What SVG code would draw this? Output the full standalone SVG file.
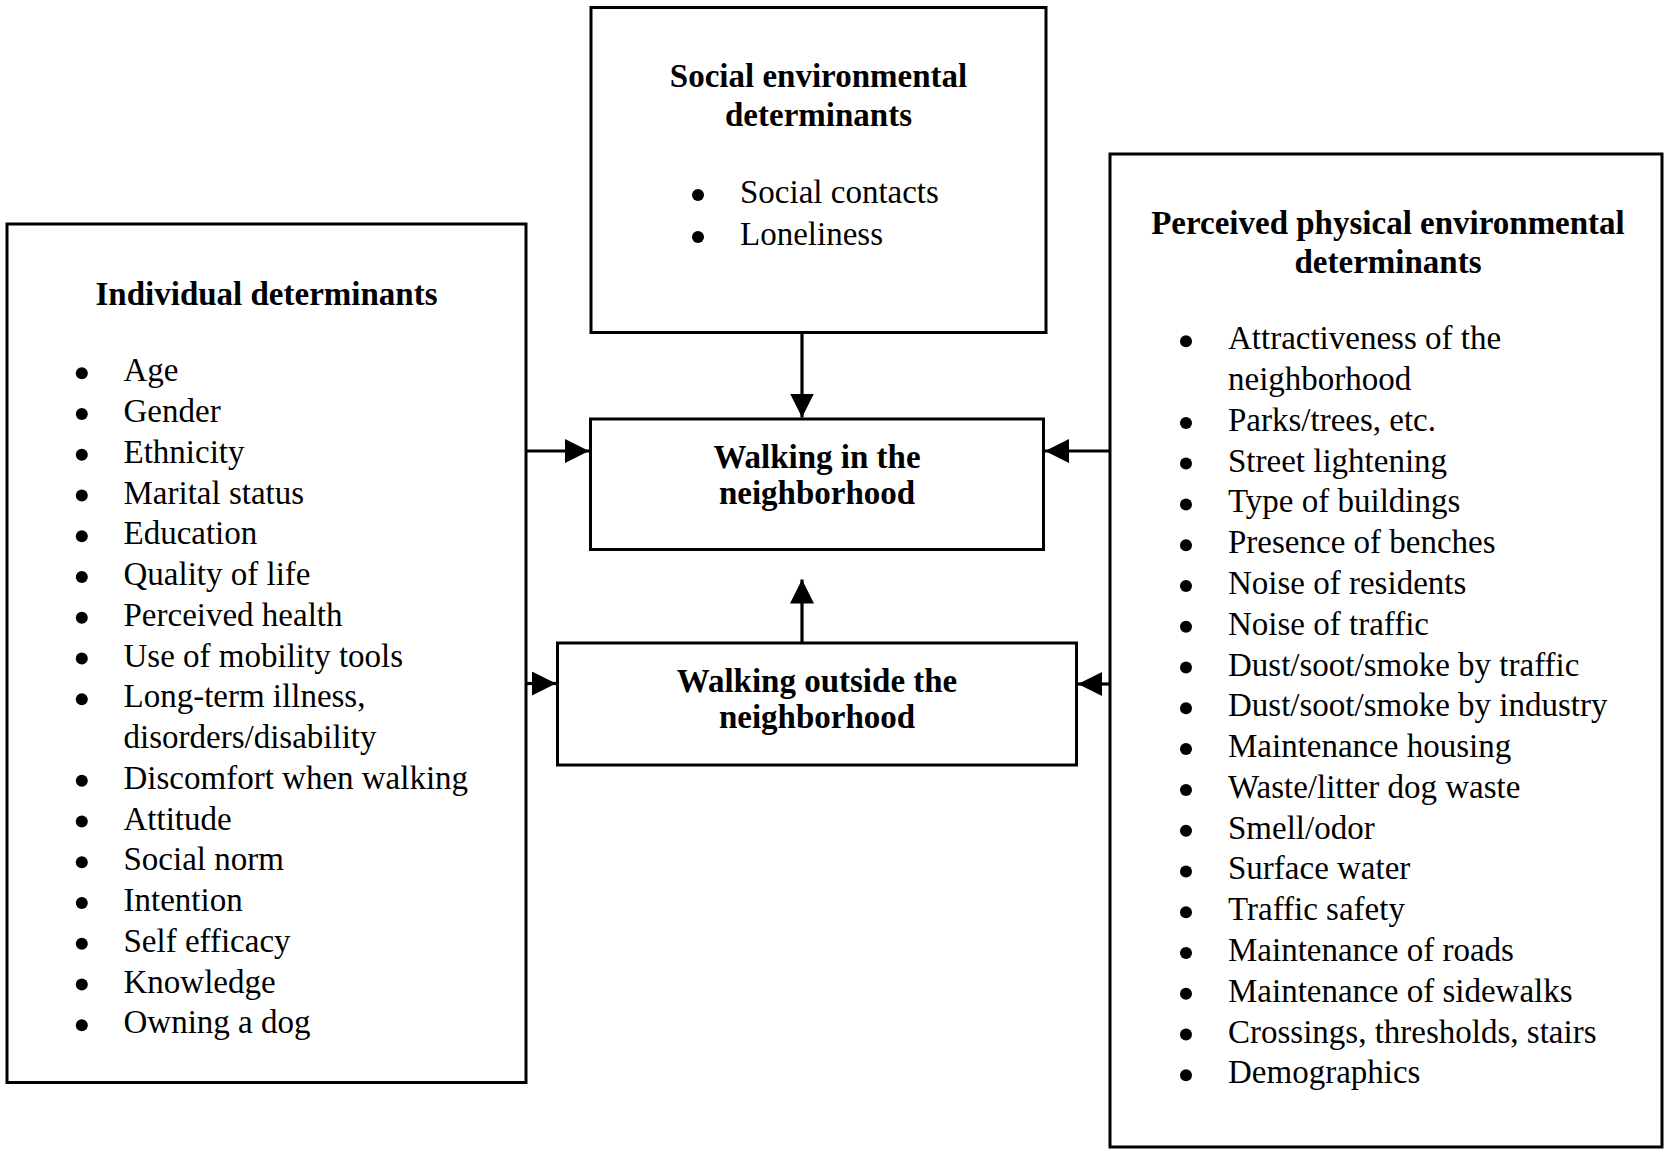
<svg xmlns="http://www.w3.org/2000/svg" width="1665" height="1161" viewBox="0 0 1665 1161">
<style>
.box{fill:#fff;stroke:#000;stroke-width:3}
.t{font-family:"Liberation Serif","Times New Roman",serif;font-size:33px;fill:#000}
.b{font-weight:bold;text-anchor:middle}
.conn line{stroke:#000;stroke-width:3.2}
.dot{fill:#000}
</style>
<defs>
<marker id="ah" markerUnits="userSpaceOnUse" markerWidth="24" markerHeight="24" refX="24" refY="12" orient="auto">
<path d="M0,0 L24,12 L0,24 z" fill="#000"/>
</marker>
</defs>
<rect width="1665" height="1161" fill="#fff"/>

<g id="social">
<rect class="box" x="591" y="7.5" width="455" height="325"/>
<text class="t b" x="818.5" y="87.3">Social environmental</text>
<text class="t b" x="818.5" y="126">determinants</text>
<circle class="dot" cx="698" cy="195" r="6"/>
<circle class="dot" cx="698" cy="237" r="6"/>
<text class="t" x="740" y="203.3">Social contacts</text>
<text class="t" x="740" y="245">Loneliness</text>
</g>

<g id="individual">
<rect class="box" x="7" y="224" width="519" height="858.5"/>
<text class="t b" x="266.5" y="305">Individual determinants</text>
<g class="dot">
<circle cx="81.8" cy="373.3" r="6"/>
<circle cx="81.8" cy="414.1" r="6"/>
<circle cx="81.8" cy="454.8" r="6"/>
<circle cx="81.8" cy="495.6" r="6"/>
<circle cx="81.8" cy="536.3" r="6"/>
<circle cx="81.8" cy="577.1" r="6"/>
<circle cx="81.8" cy="617.8" r="6"/>
<circle cx="81.8" cy="658.6" r="6"/>
<circle cx="81.8" cy="699.3" r="6"/>
<circle cx="81.8" cy="780.8" r="6"/>
<circle cx="81.8" cy="821.6" r="6"/>
<circle cx="81.8" cy="862.3" r="6"/>
<circle cx="81.8" cy="903.1" r="6"/>
<circle cx="81.8" cy="943.8" r="6"/>
<circle cx="81.8" cy="984.6" r="6"/>
<circle cx="81.8" cy="1025.3" r="6"/>
</g>
<text class="t" x="123.5" y="381.3">Age</text>
<text class="t" x="123.5" y="422.1">Gender</text>
<text class="t" x="123.5" y="462.8">Ethnicity</text>
<text class="t" x="123.5" y="503.6">Marital status</text>
<text class="t" x="123.5" y="544.3">Education</text>
<text class="t" x="123.5" y="585.1">Quality of life</text>
<text class="t" x="123.5" y="625.8">Perceived health</text>
<text class="t" x="123.5" y="666.6">Use of mobility tools</text>
<text class="t" x="123.5" y="707.3">Long-term illness,</text>
<text class="t" x="123.5" y="748.1">disorders/disability</text>
<text class="t" x="123.5" y="788.8">Discomfort when walking</text>
<text class="t" x="123.5" y="829.6">Attitude</text>
<text class="t" x="123.5" y="870.3">Social norm</text>
<text class="t" x="123.5" y="911.1">Intention</text>
<text class="t" x="123.5" y="951.8">Self efficacy</text>
<text class="t" x="123.5" y="992.6">Knowledge</text>
<text class="t" x="123.5" y="1033.3">Owning a dog</text>
</g>

<g id="perceived">
<rect class="box" x="1110" y="154" width="552" height="993"/>
<text class="t b" x="1388" y="234">Perceived physical environmental</text>
<text class="t b" x="1388" y="272.7">determinants</text>
<g class="dot">
<circle cx="1186" cy="341.3" r="6"/>
<circle cx="1186" cy="422.9" r="6"/>
<circle cx="1186" cy="463.6" r="6"/>
<circle cx="1186" cy="504.4" r="6"/>
<circle cx="1186" cy="545.2" r="6"/>
<circle cx="1186" cy="586" r="6"/>
<circle cx="1186" cy="626.8" r="6"/>
<circle cx="1186" cy="667.5" r="6"/>
<circle cx="1186" cy="708.3" r="6"/>
<circle cx="1186" cy="749.1" r="6"/>
<circle cx="1186" cy="789.9" r="6"/>
<circle cx="1186" cy="830.7" r="6"/>
<circle cx="1186" cy="871.4" r="6"/>
<circle cx="1186" cy="912.2" r="6"/>
<circle cx="1186" cy="953" r="6"/>
<circle cx="1186" cy="993.8" r="6"/>
<circle cx="1186" cy="1034.6" r="6"/>
<circle cx="1186" cy="1075.3" r="6"/>
</g>
<text class="t" x="1228" y="349.3">Attractiveness of the</text>
<text class="t" x="1228" y="390.1">neighborhood</text>
<text class="t" x="1228" y="430.9">Parks/trees, etc.</text>
<text class="t" x="1228" y="471.6">Street lightening</text>
<text class="t" x="1228" y="512.4">Type of buildings</text>
<text class="t" x="1228" y="553.2">Presence of benches</text>
<text class="t" x="1228" y="594">Noise of residents</text>
<text class="t" x="1228" y="634.8">Noise of traffic</text>
<text class="t" x="1228" y="675.5">Dust/soot/smoke by traffic</text>
<text class="t" x="1228" y="716.3">Dust/soot/smoke by industry</text>
<text class="t" x="1228" y="757.1">Maintenance housing</text>
<text class="t" x="1228" y="797.9">Waste/litter dog waste</text>
<text class="t" x="1228" y="838.7">Smell/odor</text>
<text class="t" x="1228" y="879.4">Surface water</text>
<text class="t" x="1228" y="920.2">Traffic safety</text>
<text class="t" x="1228" y="961">Maintenance of roads</text>
<text class="t" x="1228" y="1001.8">Maintenance of sidewalks</text>
<text class="t" x="1228" y="1042.6">Crossings, thresholds, stairs</text>
<text class="t" x="1228" y="1083.3">Demographics</text>
</g>

<g id="walking-in">
<rect class="box" x="590.5" y="419" width="453" height="130.5"/>
<text class="t b" x="817" y="467.5">Walking in the</text>
<text class="t b" x="817" y="504">neighborhood</text>
</g>

<g id="walking-outside">
<rect class="box" x="557.5" y="643" width="519" height="122"/>
<text class="t b" x="817" y="691.7">Walking outside the</text>
<text class="t b" x="817" y="727.7">neighborhood</text>
</g>

<g class="conn" id="connectors">
<line x1="802" y1="332" x2="802" y2="417.5" marker-end="url(#ah)"/>
<line x1="802" y1="643" x2="802" y2="579.5" marker-end="url(#ah)"/>
<line x1="526" y1="451" x2="589" y2="451" marker-end="url(#ah)"/>
<line x1="526" y1="683.5" x2="556" y2="683.5" marker-end="url(#ah)"/>
<line x1="1110" y1="451" x2="1045" y2="451" marker-end="url(#ah)"/>
<line x1="1110" y1="684" x2="1078" y2="684" marker-end="url(#ah)"/>
</g>
</svg>
